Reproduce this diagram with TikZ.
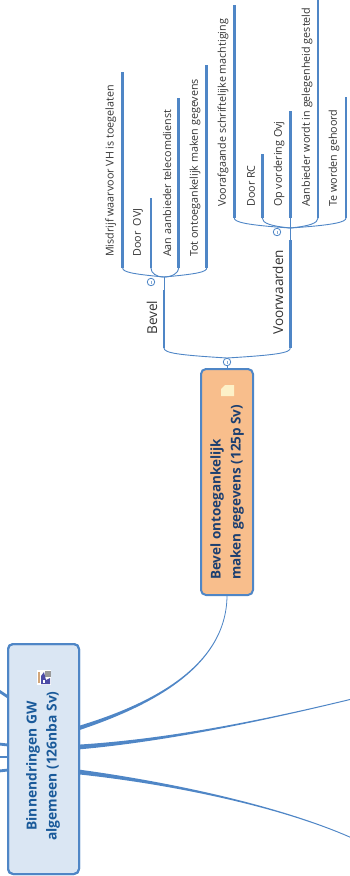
\documentclass[tikz,border=0pt]{standalone}
\usepackage{fontspec}
\setmainfont{Open Sans}
\usetikzlibrary{calc}
\definecolor{linkblue}{HTML}{4F86C6}
\definecolor{orangefill}{HTML}{F8BE8C}
\definecolor{bluefill}{HTML}{DAE6F3}
\definecolor{titleblue}{HTML}{1A5A9A}
\definecolor{titlenavy}{HTML}{1C3F70}
\definecolor{notefill}{HTML}{FDF1C8}
\tikzset{
  leaf/.style={rotate=90,anchor=west,inner sep=0pt,font=\fontsize{10.75}{12}\selectfont,text=black!80},
  branch/.style={rotate=90,anchor=west,inner sep=0pt,font=\fontsize{13.6}{16}\selectfont,text=black!80},
  bar/.style={draw=linkblue,line width=2.8pt},
  thin link/.style={draw=linkblue,line width=0.9pt},
  taper/.style={fill=linkblue,draw=none},
  collapse/.style={circle,draw=linkblue,line width=0.8pt,fill=white,minimum size=7.5pt,inner sep=0pt},
  collapse mark/.style={draw=linkblue!70,line width=0.5pt},
  topicbox/.style={draw=linkblue,line width=2pt,rounded corners=5pt,inner sep=0pt}
}
\begin{document}
\begin{tikzpicture}[x=1pt,y=-1pt]
\useasboundingbox (0,0) rectangle (350,876);
\clip (0,0) rectangle (350,876);
% boxes
\node[topicbox,fill=bluefill,minimum width=71pt,minimum height=230pt] (root) at (43.5,759) {};
\node[topicbox,fill=orangefill,minimum width=52pt,minimum height=226pt] (bevelbox) at (227,482) {};
\coordinate (rootA) at (79,728);
\coordinate (rootB) at (79,747);
\coordinate (rootC) at (79,772);
\coordinate (endB) at (352,699);
\coordinate (endC) at (352,838);
\coordinate (boxbot) at (bevelbox.south);
% tapered links from the root
\fill[taper] ($(rootA)+(0,-2.2)$) .. controls (147.6,705) and (225.9,667.8) .. ($(boxbot)+(-0.4,0)$) -- ($(boxbot)+(0.4,0)$) .. controls (226.7,668.2) and (148.4,707) .. ($(rootA)+(0,2.2)$) -- cycle;
\fill[taper] ($(rootB)+(0,-2.4)$) .. controls (170,738.9) and (265,719.6) .. ($(endB)+(0,-0.5)$) -- ($(endB)+(0,0.5)$) .. controls (265,720.6) and (170,741.1) .. ($(rootB)+(0,2.4)$) -- cycle;
\fill[taper] ($(rootC)+(0,-2.4)$) .. controls (170,781.9) and (280,805.5) .. ($(endC)+(0,-0.5)$) -- ($(endC)+(0,0.5)$) .. controls (280,806.5) and (170,784.1) .. ($(rootC)+(0,2.4)$) -- cycle;
% stubs to the left of the root
\coordinate (leftA) at (-1,691); \coordinate (leftB) at (-1,744); \coordinate (leftC) at (-1,757); \coordinate (leftD) at (-1,771);
\draw[draw=linkblue,line width=2.8pt] (leftA) -- (8,697);
\draw[draw=linkblue,line width=2.8pt] (leftB) -- (8,745);
\draw[draw=linkblue,line width=2.8pt] (leftC) -- (8,757);
\draw[draw=linkblue,line width=2.8pt] (leftD) -- (8,770);
% redraw the root border over the stubs and links
\node[topicbox,minimum width=71pt,minimum height=230pt] at (root) {};
% upper structure
\coordinate (hub) at (227,358);
\coordinate (bevelA) at (164,348); \coordinate (bevelB) at (164,290); \coordinate (bevelJ) at (164,277);
\coordinate (voorA) at (290.3,348); \coordinate (voorB) at (290.3,240); \coordinate (voorJ) at (290.3,228);
\draw[thin link] (bevelbox.north) -- (hub);
\draw[thin link] (bevelA) .. controls (164,353) and (178,355) .. (hub);
\draw[thin link] (voorA) .. controls (290.3,353) and (276,355) .. (hub);
\draw[bar] (bevelA) -- (bevelB);
\draw[bar] (voorA) -- (voorB);
\draw[thin link] (bevelB) -- (bevelJ);
\draw[thin link] (voorB) -- (voorJ);
\node[branch] (tBevel) at (152,335) {Bevel};
\node[branch] (tVoor) at (278,335) {Voorwaarden};
% Bevel children
\foreach \n/\x/\t in {m/122.7/72,d/151/198,a/178.7/98,o/206.7/65}{
  \coordinate (\n0) at (\x,268);
  \coordinate (\n1) at (\x,\t);
  \draw[bar] (\n0) -- (\n1);
}
\draw[thin link] (m0) .. controls (122.7,272) and (132,274) .. (bevelJ);
\draw[thin link] (d0) .. controls (151,273) and (156,277) .. (bevelJ);
\draw[thin link] (a0) .. controls (178.7,273) and (172,277) .. (bevelJ);
\draw[thin link] (o0) .. controls (206.7,272) and (197,274) .. (bevelJ);
\node[leaf] (tm) at (110.7,257) {Misdrijf waarvoor VH is toegelaten};
\node[leaf] (td) at (138,257) {Door\ \ OVJ};
\node[leaf] (ta) at (167,257) {Aan aanbieder telecomdienst};
\node[leaf] (to) at (195,257) {Tot ontoegankelijk maken gegevens};
% Voorwaarden children
\foreach \n/\x/\t in {v/234.3/5,r/262.3/154,p/290.3/111,g/318/-3,h/346/97}{
  \coordinate (\n0) at (\x,218);
  \coordinate (\n1) at (\x,\t);
  \draw[bar] (\n0) -- (\n1);
}
\draw[thin link] (v0) .. controls (234.3,222) and (245,225) .. (voorJ);
\draw[thin link] (r0) .. controls (262.3,223) and (270,226) .. (voorJ);
\draw[thin link] (p0) -- (voorJ);
\draw[thin link] (g0) .. controls (318,223) and (310,226) .. (voorJ);
\draw[thin link] (h0) .. controls (346,222) and (335,225) .. (voorJ);
\node[leaf] (tv) at (223,207) {Voorafgaande schriftelijke machtiging};
\node[leaf] (tr) at (251,207) {Door RC};
\node[leaf] (tp) at (279,207) {Op vordering Ovj};
\node[leaf] (tg) at (307,207) {Aanbieder wordt in gelegenheid gesteld};
\node[leaf] (th) at (334,207) {Te worden gehoord};
% collapse markers
\foreach \n/\x/\y in {c1/151/282,c2/277/232,c3/227/362}{
  \node[collapse] (\n) at (\x,\y) {};
  \draw[collapse mark] ($(\n)+(0,-1.5)$) -- ($(\n)+(0,1.5)$);
}
% titles
\node[rotate=90,anchor=west,inner sep=0pt,align=left,text=titlenavy,font=\fontsize{13.5}{20}\bfseries\selectfont] (tbox) at (227,580) {Bevel ontoegankelijk\\maken gegevens (125p Sv)};
\node[rotate=90,inner sep=0pt,align=center,text=titleblue,font=\fontsize{13.8}{20}\bfseries\selectfont] (troot) at (43,766) {Binnendringen GW\\algemeen (126nba Sv)};
% note icon
\fill[notefill] (221,396) -- (234,396) -- (234,385) -- (225,385) -- (221,389) -- cycle;
% root icon
\fill[white] (37,670) rectangle (51,685);
\fill[black!40] (45,670.5) rectangle (50.5,677);
\fill[brown!70] (38,672) rectangle (40,683);
\fill[blue!50!black!70] (41,676) -- (44,672) -- (46,680) -- (50,678) -- (50,684) -- (41,684) -- cycle;
\fill[white] (43,680) rectangle (45,683);
\end{tikzpicture}
\end{document}
